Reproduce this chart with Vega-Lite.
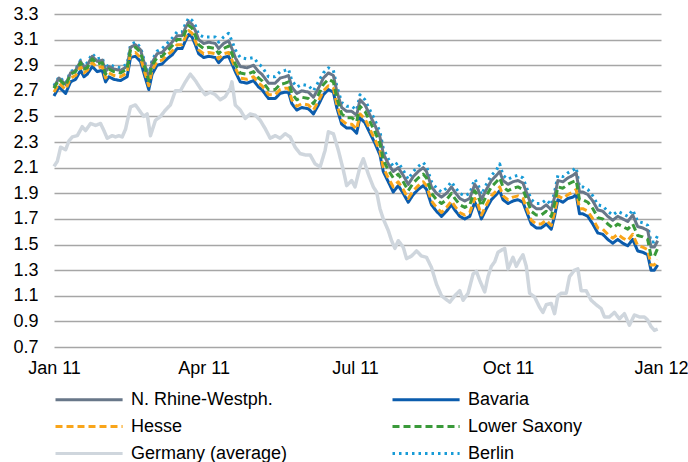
{
  "$schema": "https://vega.github.io/schema/vega-lite/v6.json",
  "width": 607,
  "height": 333,
  "autosize": "none",
  "padding": {"left": 54, "top": 14, "right": 27, "bottom": 115},
  "title": {
    "text": "volume (5 years remaining to Q1 2011), %",
    "anchor": "start",
    "frame": "group",
    "dx": -42,
    "offset": 10,
    "baseline": "alphabetic",
    "font": "Liberation Sans",
    "fontSize": 18,
    "fontWeight": "normal",
    "color": "#000000"
  },
  "config": {
    "view": {"stroke": null},
    "font": "Liberation Sans",
    "legend": {
      "orient": "none",
      "direction": "horizontal",
      "legendX": 0,
      "legendY": 373,
      "columns": 2,
      "symbolType": "M-1,0H5.1",
      "symbolSize": 484,
      "symbolStrokeWidth": 3,
      "labelFont": "Liberation Sans",
      "labelFontSize": 18,
      "labelColor": "#000000",
      "labelOffset": 52,
      "labelLimit": 300,
      "columnPadding": 98,
      "rowPadding": 5,
      "padding": 0,
      "title": null
    }
  },
  "datasets": {
    "reg": [
      {"d":"2011-01-01","NRW":2.73,"BAV":2.66,"HES":2.69,"LS":2.72,"BER":2.74},
      {"d":"2011-01-04","NRW":2.80,"BAV":2.73,"HES":2.76,"LS":2.79,"BER":2.81},
      {"d":"2011-01-08","NRW":2.75,"BAV":2.68,"HES":2.71,"LS":2.74,"BER":2.76},
      {"d":"2011-01-11","NRW":2.84,"BAV":2.77,"HES":2.80,"LS":2.83,"BER":2.85},
      {"d":"2011-01-14","NRW":2.86,"BAV":2.79,"HES":2.82,"LS":2.85,"BER":2.87},
      {"d":"2011-01-17","NRW":2.93,"BAV":2.86,"HES":2.89,"LS":2.92,"BER":2.94},
      {"d":"2011-01-19","NRW":2.88,"BAV":2.81,"HES":2.84,"LS":2.87,"BER":2.89},
      {"d":"2011-01-21","NRW":2.90,"BAV":2.83,"HES":2.86,"LS":2.88,"BER":2.92},
      {"d":"2011-01-24","NRW":2.97,"BAV":2.89,"HES":2.92,"LS":2.95,"BER":2.99},
      {"d":"2011-01-27","NRW":2.93,"BAV":2.85,"HES":2.88,"LS":2.91,"BER":2.95},
      {"d":"2011-01-30","NRW":2.94,"BAV":2.86,"HES":2.89,"LS":2.92,"BER":2.96},
      {"d":"2011-02-01","NRW":2.85,"BAV":2.77,"HES":2.80,"LS":2.83,"BER":2.87},
      {"d":"2011-02-03","NRW":2.89,"BAV":2.81,"HES":2.84,"LS":2.87,"BER":2.91},
      {"d":"2011-02-06","NRW":2.87,"BAV":2.79,"HES":2.82,"LS":2.85,"BER":2.89},
      {"d":"2011-02-10","NRW":2.86,"BAV":2.78,"HES":2.81,"LS":2.84,"BER":2.88},
      {"d":"2011-02-14","NRW":2.89,"BAV":2.81,"HES":2.84,"LS":2.87,"BER":2.91},
      {"d":"2011-02-16","NRW":3.04,"BAV":2.96,"HES":2.99,"LS":3.02,"BER":3.06},
      {"d":"2011-02-19","NRW":3.06,"BAV":2.97,"HES":3.00,"LS":3.04,"BER":3.08},
      {"d":"2011-02-22","NRW":3.02,"BAV":2.93,"HES":2.96,"LS":3.00,"BER":3.04},
      {"d":"2011-02-24","NRW":2.93,"BAV":2.84,"HES":2.87,"LS":2.91,"BER":2.95},
      {"d":"2011-02-27","NRW":2.80,"BAV":2.71,"HES":2.74,"LS":2.78,"BER":2.82},
      {"d":"2011-03-01","NRW":2.92,"BAV":2.83,"HES":2.86,"LS":2.90,"BER":2.94},
      {"d":"2011-03-04","NRW":2.99,"BAV":2.90,"HES":2.93,"LS":2.96,"BER":3.01},
      {"d":"2011-03-07","NRW":3.00,"BAV":2.91,"HES":2.94,"LS":2.97,"BER":3.03},
      {"d":"2011-03-10","NRW":3.04,"BAV":2.95,"HES":2.98,"LS":3.01,"BER":3.07},
      {"d":"2011-03-13","NRW":3.08,"BAV":2.98,"HES":3.01,"LS":3.05,"BER":3.11},
      {"d":"2011-03-16","NRW":3.13,"BAV":3.03,"HES":3.06,"LS":3.10,"BER":3.16},
      {"d":"2011-03-19","NRW":3.13,"BAV":3.03,"HES":3.06,"LS":3.10,"BER":3.16},
      {"d":"2011-03-21","NRW":3.19,"BAV":3.09,"HES":3.12,"LS":3.16,"BER":3.22},
      {"d":"2011-03-23","NRW":3.24,"BAV":3.14,"HES":3.17,"LS":3.21,"BER":3.27},
      {"d":"2011-03-25","NRW":3.22,"BAV":3.12,"HES":3.15,"LS":3.19,"BER":3.25},
      {"d":"2011-03-27","NRW":3.17,"BAV":3.06,"HES":3.09,"LS":3.13,"BER":3.21},
      {"d":"2011-03-29","NRW":3.10,"BAV":2.99,"HES":3.02,"LS":3.06,"BER":3.14},
      {"d":"2011-04-01","NRW":3.07,"BAV":2.96,"HES":2.99,"LS":3.03,"BER":3.12},
      {"d":"2011-04-04","NRW":3.08,"BAV":2.97,"HES":3.00,"LS":3.04,"BER":3.12},
      {"d":"2011-04-08","NRW":3.07,"BAV":2.96,"HES":2.99,"LS":3.03,"BER":3.12},
      {"d":"2011-04-10","NRW":3.03,"BAV":2.92,"HES":2.95,"LS":2.99,"BER":3.08},
      {"d":"2011-04-13","NRW":3.07,"BAV":2.96,"HES":2.99,"LS":3.03,"BER":3.12},
      {"d":"2011-04-16","NRW":3.09,"BAV":2.97,"HES":3.00,"LS":3.05,"BER":3.15},
      {"d":"2011-04-18","NRW":3.03,"BAV":2.91,"HES":2.94,"LS":2.99,"BER":3.09},
      {"d":"2011-04-20","NRW":2.96,"BAV":2.85,"HES":2.88,"LS":2.91,"BER":3.02},
      {"d":"2011-04-23","NRW":2.89,"BAV":2.77,"HES":2.80,"LS":2.84,"BER":2.96},
      {"d":"2011-04-27","NRW":2.88,"BAV":2.76,"HES":2.79,"LS":2.83,"BER":2.95},
      {"d":"2011-05-01","NRW":2.90,"BAV":2.78,"HES":2.81,"LS":2.85,"BER":2.96},
      {"d":"2011-05-04","NRW":2.85,"BAV":2.73,"HES":2.76,"LS":2.80,"BER":2.91},
      {"d":"2011-05-06","NRW":2.83,"BAV":2.71,"HES":2.74,"LS":2.78,"BER":2.89},
      {"d":"2011-05-10","NRW":2.76,"BAV":2.64,"HES":2.67,"LS":2.71,"BER":2.81},
      {"d":"2011-05-14","NRW":2.76,"BAV":2.64,"HES":2.67,"LS":2.71,"BER":2.81},
      {"d":"2011-05-17","NRW":2.80,"BAV":2.68,"HES":2.71,"LS":2.75,"BER":2.85},
      {"d":"2011-05-20","NRW":2.81,"BAV":2.69,"HES":2.72,"LS":2.76,"BER":2.86},
      {"d":"2011-05-22","NRW":2.82,"BAV":2.69,"HES":2.72,"LS":2.77,"BER":2.87},
      {"d":"2011-05-24","NRW":2.73,"BAV":2.60,"HES":2.63,"LS":2.68,"BER":2.78},
      {"d":"2011-05-27","NRW":2.68,"BAV":2.55,"HES":2.58,"LS":2.63,"BER":2.73},
      {"d":"2011-05-30","NRW":2.70,"BAV":2.57,"HES":2.60,"LS":2.65,"BER":2.75},
      {"d":"2011-06-03","NRW":2.69,"BAV":2.56,"HES":2.59,"LS":2.64,"BER":2.74},
      {"d":"2011-06-06","NRW":2.65,"BAV":2.52,"HES":2.55,"LS":2.60,"BER":2.70},
      {"d":"2011-06-09","NRW":2.72,"BAV":2.59,"HES":2.62,"LS":2.67,"BER":2.77},
      {"d":"2011-06-12","NRW":2.80,"BAV":2.67,"HES":2.70,"LS":2.75,"BER":2.84},
      {"d":"2011-06-15","NRW":2.84,"BAV":2.71,"HES":2.74,"LS":2.79,"BER":2.88},
      {"d":"2011-06-18","NRW":2.82,"BAV":2.69,"HES":2.72,"LS":2.77,"BER":2.86},
      {"d":"2011-06-20","NRW":2.70,"BAV":2.57,"HES":2.60,"LS":2.65,"BER":2.74},
      {"d":"2011-06-23","NRW":2.57,"BAV":2.44,"HES":2.47,"LS":2.52,"BER":2.61},
      {"d":"2011-06-26","NRW":2.54,"BAV":2.41,"HES":2.44,"LS":2.49,"BER":2.58},
      {"d":"2011-06-29","NRW":2.54,"BAV":2.41,"HES":2.44,"LS":2.49,"BER":2.58},
      {"d":"2011-07-02","NRW":2.51,"BAV":2.37,"HES":2.40,"LS":2.46,"BER":2.55},
      {"d":"2011-07-04","NRW":2.63,"BAV":2.49,"HES":2.52,"LS":2.58,"BER":2.67},
      {"d":"2011-07-07","NRW":2.59,"BAV":2.45,"HES":2.48,"LS":2.54,"BER":2.63},
      {"d":"2011-07-10","NRW":2.51,"BAV":2.37,"HES":2.40,"LS":2.46,"BER":2.55},
      {"d":"2011-07-13","NRW":2.43,"BAV":2.29,"HES":2.32,"LS":2.38,"BER":2.47},
      {"d":"2011-07-16","NRW":2.34,"BAV":2.20,"HES":2.23,"LS":2.29,"BER":2.38},
      {"d":"2011-07-18","NRW":2.21,"BAV":2.07,"HES":2.10,"LS":2.16,"BER":2.25},
      {"d":"2011-07-21","NRW":2.13,"BAV":1.99,"HES":2.02,"LS":2.08,"BER":2.17},
      {"d":"2011-07-24","NRW":2.07,"BAV":1.91,"HES":1.95,"LS":2.02,"BER":2.11},
      {"d":"2011-07-27","NRW":2.10,"BAV":1.96,"HES":1.99,"LS":2.05,"BER":2.14},
      {"d":"2011-07-30","NRW":2.04,"BAV":1.90,"HES":1.93,"LS":1.99,"BER":2.08},
      {"d":"2011-08-02","NRW":1.97,"BAV":1.83,"HES":1.86,"LS":1.92,"BER":2.01},
      {"d":"2011-08-05","NRW":2.03,"BAV":1.89,"HES":1.92,"LS":1.98,"BER":2.07},
      {"d":"2011-08-08","NRW":2.07,"BAV":1.93,"HES":1.96,"LS":2.02,"BER":2.11},
      {"d":"2011-08-11","NRW":2.10,"BAV":1.96,"HES":1.99,"LS":2.05,"BER":2.14},
      {"d":"2011-08-13","NRW":2.07,"BAV":1.93,"HES":1.96,"LS":2.02,"BER":2.11},
      {"d":"2011-08-16","NRW":1.95,"BAV":1.81,"HES":1.84,"LS":1.90,"BER":1.99},
      {"d":"2011-08-19","NRW":1.90,"BAV":1.76,"HES":1.79,"LS":1.85,"BER":1.94},
      {"d":"2011-08-22","NRW":1.87,"BAV":1.72,"HES":1.75,"LS":1.82,"BER":1.91},
      {"d":"2011-08-25","NRW":1.90,"BAV":1.76,"HES":1.79,"LS":1.85,"BER":1.94},
      {"d":"2011-08-28","NRW":1.95,"BAV":1.81,"HES":1.84,"LS":1.90,"BER":1.99},
      {"d":"2011-08-30","NRW":1.91,"BAV":1.77,"HES":1.80,"LS":1.86,"BER":1.95},
      {"d":"2011-09-02","NRW":1.86,"BAV":1.72,"HES":1.75,"LS":1.81,"BER":1.90},
      {"d":"2011-09-05","NRW":1.84,"BAV":1.70,"HES":1.73,"LS":1.79,"BER":1.88},
      {"d":"2011-09-08","NRW":1.86,"BAV":1.72,"HES":1.75,"LS":1.81,"BER":1.90},
      {"d":"2011-09-11","NRW":1.97,"BAV":1.83,"HES":1.86,"LS":1.92,"BER":2.01},
      {"d":"2011-09-13","NRW":1.93,"BAV":1.78,"HES":1.81,"LS":1.88,"BER":1.97},
      {"d":"2011-09-15","NRW":1.85,"BAV":1.70,"HES":1.73,"LS":1.80,"BER":1.89},
      {"d":"2011-09-18","NRW":1.93,"BAV":1.78,"HES":1.81,"LS":1.88,"BER":1.97},
      {"d":"2011-09-21","NRW":2.00,"BAV":1.85,"HES":1.88,"LS":1.95,"BER":2.04},
      {"d":"2011-09-24","NRW":2.04,"BAV":1.89,"HES":1.92,"LS":1.99,"BER":2.08},
      {"d":"2011-09-26","NRW":2.07,"BAV":1.92,"HES":1.95,"LS":2.02,"BER":2.13},
      {"d":"2011-09-28","NRW":2.00,"BAV":1.85,"HES":1.88,"LS":1.95,"BER":2.04},
      {"d":"2011-10-01","NRW":1.97,"BAV":1.82,"HES":1.85,"LS":1.92,"BER":2.01},
      {"d":"2011-10-04","NRW":1.99,"BAV":1.84,"HES":1.87,"LS":1.94,"BER":2.03},
      {"d":"2011-10-07","NRW":2.00,"BAV":1.85,"HES":1.88,"LS":1.95,"BER":2.04},
      {"d":"2011-10-10","NRW":1.98,"BAV":1.83,"HES":1.86,"LS":1.93,"BER":2.02},
      {"d":"2011-10-12","NRW":1.91,"BAV":1.76,"HES":1.79,"LS":1.86,"BER":1.95},
      {"d":"2011-10-15","NRW":1.81,"BAV":1.66,"HES":1.69,"LS":1.76,"BER":1.85},
      {"d":"2011-10-18","NRW":1.78,"BAV":1.63,"HES":1.66,"LS":1.73,"BER":1.82},
      {"d":"2011-10-21","NRW":1.78,"BAV":1.63,"HES":1.66,"LS":1.73,"BER":1.82},
      {"d":"2011-10-24","NRW":1.81,"BAV":1.66,"HES":1.69,"LS":1.76,"BER":1.85},
      {"d":"2011-10-27","NRW":1.77,"BAV":1.62,"HES":1.65,"LS":1.72,"BER":1.81},
      {"d":"2011-10-29","NRW":1.87,"BAV":1.72,"HES":1.75,"LS":1.82,"BER":1.91},
      {"d":"2011-10-31","NRW":2.00,"BAV":1.85,"HES":1.88,"LS":1.95,"BER":2.04},
      {"d":"2011-11-03","NRW":1.99,"BAV":1.83,"HES":1.86,"LS":1.94,"BER":2.03},
      {"d":"2011-11-06","NRW":2.02,"BAV":1.86,"HES":1.89,"LS":1.97,"BER":2.06},
      {"d":"2011-11-09","NRW":2.04,"BAV":1.87,"HES":1.91,"LS":1.99,"BER":2.08},
      {"d":"2011-11-11","NRW":2.06,"BAV":1.89,"HES":1.93,"LS":2.00,"BER":2.10},
      {"d":"2011-11-13","NRW":1.91,"BAV":1.74,"HES":1.78,"LS":1.85,"BER":1.95},
      {"d":"2011-11-15","NRW":1.91,"BAV":1.74,"HES":1.78,"LS":1.85,"BER":1.95},
      {"d":"2011-11-18","NRW":1.89,"BAV":1.72,"HES":1.76,"LS":1.83,"BER":1.93},
      {"d":"2011-11-21","NRW":1.84,"BAV":1.66,"HES":1.70,"LS":1.78,"BER":1.88},
      {"d":"2011-11-24","NRW":1.77,"BAV":1.59,"HES":1.63,"LS":1.71,"BER":1.81},
      {"d":"2011-11-27","NRW":1.76,"BAV":1.58,"HES":1.62,"LS":1.70,"BER":1.80},
      {"d":"2011-11-30","NRW":1.72,"BAV":1.54,"HES":1.58,"LS":1.66,"BER":1.76},
      {"d":"2011-12-03","NRW":1.69,"BAV":1.51,"HES":1.55,"LS":1.63,"BER":1.73},
      {"d":"2011-12-06","NRW":1.72,"BAV":1.54,"HES":1.58,"LS":1.66,"BER":1.76},
      {"d":"2011-12-09","NRW":1.70,"BAV":1.51,"HES":1.55,"LS":1.64,"BER":1.74},
      {"d":"2011-12-12","NRW":1.68,"BAV":1.49,"HES":1.53,"LS":1.62,"BER":1.72},
      {"d":"2011-12-15","NRW":1.73,"BAV":1.54,"HES":1.58,"LS":1.66,"BER":1.77},
      {"d":"2011-12-18","NRW":1.64,"BAV":1.45,"HES":1.49,"LS":1.57,"BER":1.68},
      {"d":"2011-12-21","NRW":1.63,"BAV":1.44,"HES":1.48,"LS":1.56,"BER":1.67},
      {"d":"2011-12-24","NRW":1.61,"BAV":1.42,"HES":1.46,"LS":1.54,"BER":1.65},
      {"d":"2011-12-26","NRW":1.48,"BAV":1.30,"HES":1.34,"LS":1.41,"BER":1.52},
      {"d":"2011-12-28","NRW":1.48,"BAV":1.30,"HES":1.34,"LS":1.41,"BER":1.52},
      {"d":"2011-12-30","NRW":1.53,"BAV":1.34,"HES":1.38,"LS":1.47,"BER":1.57}
    ],
    "ger": [
      {"d":"2011-01-01","GER":2.11},{"d":"2011-01-03","GER":2.15},{"d":"2011-01-05","GER":2.26},
      {"d":"2011-01-08","GER":2.24},{"d":"2011-01-10","GER":2.31},{"d":"2011-01-12","GER":2.34},
      {"d":"2011-01-15","GER":2.35},{"d":"2011-01-18","GER":2.42},{"d":"2011-01-20","GER":2.39},
      {"d":"2011-01-23","GER":2.445},{"d":"2011-01-26","GER":2.43},{"d":"2011-01-29","GER":2.445},
      {"d":"2011-01-31","GER":2.39},{"d":"2011-02-02","GER":2.33},{"d":"2011-02-05","GER":2.35},
      {"d":"2011-02-07","GER":2.34},{"d":"2011-02-09","GER":2.35},{"d":"2011-02-11","GER":2.34},
      {"d":"2011-02-13","GER":2.40},{"d":"2011-02-16","GER":2.575},{"d":"2011-02-19","GER":2.59},
      {"d":"2011-02-22","GER":2.535},{"d":"2011-02-24","GER":2.50},{"d":"2011-02-26","GER":2.52},
      {"d":"2011-02-28","GER":2.35},{"d":"2011-03-03","GER":2.47},{"d":"2011-03-06","GER":2.50},
      {"d":"2011-03-09","GER":2.55},{"d":"2011-03-12","GER":2.59},{"d":"2011-03-15","GER":2.70},
      {"d":"2011-03-18","GER":2.70},{"d":"2011-03-21","GER":2.77},{"d":"2011-03-24","GER":2.83},
      {"d":"2011-03-27","GER":2.78},{"d":"2011-03-30","GER":2.72},{"d":"2011-04-02","GER":2.67},
      {"d":"2011-04-05","GER":2.69},{"d":"2011-04-08","GER":2.67},{"d":"2011-04-11","GER":2.63},
      {"d":"2011-04-14","GER":2.655},{"d":"2011-04-17","GER":2.72},{"d":"2011-04-18","GER":2.77},
      {"d":"2011-04-20","GER":2.59},{"d":"2011-04-23","GER":2.55},{"d":"2011-04-26","GER":2.485},
      {"d":"2011-04-29","GER":2.52},{"d":"2011-05-02","GER":2.51},{"d":"2011-05-05","GER":2.47},
      {"d":"2011-05-08","GER":2.405},{"d":"2011-05-11","GER":2.33},{"d":"2011-05-14","GER":2.35},
      {"d":"2011-05-17","GER":2.33},{"d":"2011-05-20","GER":2.365},{"d":"2011-05-23","GER":2.34},
      {"d":"2011-05-26","GER":2.26},{"d":"2011-05-29","GER":2.21},{"d":"2011-06-01","GER":2.20},
      {"d":"2011-06-04","GER":2.20},{"d":"2011-06-07","GER":2.13},{"d":"2011-06-10","GER":2.105},
      {"d":"2011-06-13","GER":2.235},{"d":"2011-06-15","GER":2.38},{"d":"2011-06-18","GER":2.365},
      {"d":"2011-06-21","GER":2.235},{"d":"2011-06-24","GER":2.08},{"d":"2011-06-26","GER":1.96},
      {"d":"2011-06-29","GER":2.00},{"d":"2011-07-01","GER":1.95},{"d":"2011-07-04","GER":2.105},
      {"d":"2011-07-06","GER":2.17},{"d":"2011-07-09","GER":2.05},{"d":"2011-07-12","GER":1.95},
      {"d":"2011-07-14","GER":1.91},{"d":"2011-07-16","GER":1.78},{"d":"2011-07-18","GER":1.70},
      {"d":"2011-07-21","GER":1.61},{"d":"2011-07-23","GER":1.53},{"d":"2011-07-25","GER":1.47},
      {"d":"2011-07-27","GER":1.53},{"d":"2011-07-30","GER":1.48},{"d":"2011-08-01","GER":1.39},
      {"d":"2011-08-04","GER":1.41},{"d":"2011-08-07","GER":1.45},{"d":"2011-08-10","GER":1.41},
      {"d":"2011-08-13","GER":1.40},{"d":"2011-08-16","GER":1.32},{"d":"2011-08-19","GER":1.19},
      {"d":"2011-08-22","GER":1.10},{"d":"2011-08-25","GER":1.07},{"d":"2011-08-27","GER":1.05},
      {"d":"2011-08-30","GER":1.10},{"d":"2011-09-02","GER":1.14},{"d":"2011-09-04","GER":1.065},
      {"d":"2011-09-07","GER":1.12},{"d":"2011-09-10","GER":1.27},{"d":"2011-09-12","GER":1.29},
      {"d":"2011-09-14","GER":1.22},{"d":"2011-09-17","GER":1.13},{"d":"2011-09-19","GER":1.25},
      {"d":"2011-09-21","GER":1.33},{"d":"2011-09-23","GER":1.365},{"d":"2011-09-25","GER":1.44},
      {"d":"2011-09-27","GER":1.456},{"d":"2011-09-29","GER":1.47},{"d":"2011-10-01","GER":1.31},
      {"d":"2011-10-04","GER":1.40},{"d":"2011-10-06","GER":1.33},{"d":"2011-10-08","GER":1.38},
      {"d":"2011-10-10","GER":1.42},{"d":"2011-10-12","GER":1.33},{"d":"2011-10-14","GER":1.12},
      {"d":"2011-10-17","GER":1.09},{"d":"2011-10-20","GER":1.01},{"d":"2011-10-22","GER":0.97},
      {"d":"2011-10-24","GER":1.03},{"d":"2011-10-27","GER":1.04},{"d":"2011-10-29","GER":0.96},
      {"d":"2011-10-31","GER":1.10},{"d":"2011-11-02","GER":1.12},{"d":"2011-11-05","GER":1.12},
      {"d":"2011-11-07","GER":1.25},{"d":"2011-11-10","GER":1.30},{"d":"2011-11-12","GER":1.31},
      {"d":"2011-11-14","GER":1.14},{"d":"2011-11-17","GER":1.14},{"d":"2011-11-20","GER":1.065},
      {"d":"2011-11-23","GER":1.03},{"d":"2011-11-26","GER":1.00},{"d":"2011-11-28","GER":0.935},
      {"d":"2011-12-01","GER":0.935},{"d":"2011-12-04","GER":0.97},{"d":"2011-12-07","GER":0.92},
      {"d":"2011-12-10","GER":0.96},{"d":"2011-12-13","GER":0.87},{"d":"2011-12-16","GER":0.95},
      {"d":"2011-12-19","GER":0.935},{"d":"2011-12-22","GER":0.935},{"d":"2011-12-24","GER":0.91},
      {"d":"2011-12-26","GER":0.86},{"d":"2011-12-28","GER":0.83},{"d":"2011-12-30","GER":0.84}
    ]
  },
  "encoding": {
    "x": {
      "field": "d",
      "type": "temporal",
      "scale": {"type": "utc", "domain": [1293840000000, 1325376000000], "nice": false},
      "axis": {
        "title": null,
        "values": [1293840000000, 1301616000000, 1309478400000, 1317427200000, 1325376000000],
        "labelExpr": "utcFormat(datum.value, '%b %y')",
        "grid": false,
        "domain": false,
        "ticks": false,
        "labelFont": "Liberation Sans",
        "labelFontSize": 18,
        "labelColor": "#000000",
        "labelPadding": 12,
        "labelFlush": false,
        "labelOverlap": false
      }
    },
    "y": {
      "field": "v",
      "type": "quantitative",
      "scale": {"domain": [0.7, 3.3], "nice": false, "zero": false},
      "axis": {
        "title": null,
        "values": [0.7, 0.9, 1.1, 1.3, 1.5, 1.7, 1.9, 2.1, 2.3, 2.5, 2.7, 2.9, 3.1, 3.3],
        "format": ".1f",
        "grid": true,
        "gridColor": "#a6a6a6",
        "gridWidth": 1.5,
        "domain": false,
        "ticks": false,
        "labelFont": "Liberation Sans",
        "labelFontSize": 18,
        "labelColor": "#000000",
        "labelPadding": 16
      }
    },
    "color": {
      "field": "s",
      "type": "nominal",
      "scale": {
        "domain": ["NRW", "BAV", "HES", "LS", "GER", "BER"],
        "range": ["#687789", "#0b5cad", "#f9a51a", "#3a9a3a", "#cfd6dd", "#179bd7"]
      },
      "legend": {
        "labelExpr": "datum.label == 'NRW' ? 'N. Rhine-Westph.' : datum.label == 'BAV' ? 'Bavaria' : datum.label == 'HES' ? 'Hesse' : datum.label == 'LS' ? 'Lower Saxony' : datum.label == 'GER' ? 'Germany (average)' : 'Berlin'"
      }
    },
    "strokeDash": {
      "field": "s",
      "type": "nominal",
      "scale": {
        "domain": ["NRW", "BAV", "HES", "LS", "GER", "BER"],
        "range": [[1, 0], [1, 0], [7, 4], [7, 4], [1, 0], [2.5, 4]]
      },
      "legend": {
        "labelExpr": "datum.label == 'NRW' ? 'N. Rhine-Westph.' : datum.label == 'BAV' ? 'Bavaria' : datum.label == 'HES' ? 'Hesse' : datum.label == 'LS' ? 'Lower Saxony' : datum.label == 'GER' ? 'Germany (average)' : 'Berlin'"
      }
    }
  },
  "layer": [
    {
      "data": {"name": "ger"},
      "transform": [{"fold": ["GER"], "as": ["s", "v"]}],
      "mark": {"type": "line", "strokeWidth": 3.5, "strokeJoin": "round"}
    },
    {
      "data": {"name": "reg"},
      "transform": [{"fold": ["BER", "NRW", "BAV", "HES", "LS"], "as": ["s", "v"]}],
      "mark": {"type": "line", "strokeWidth": 3, "strokeJoin": "round"}
    }
  ]
}
